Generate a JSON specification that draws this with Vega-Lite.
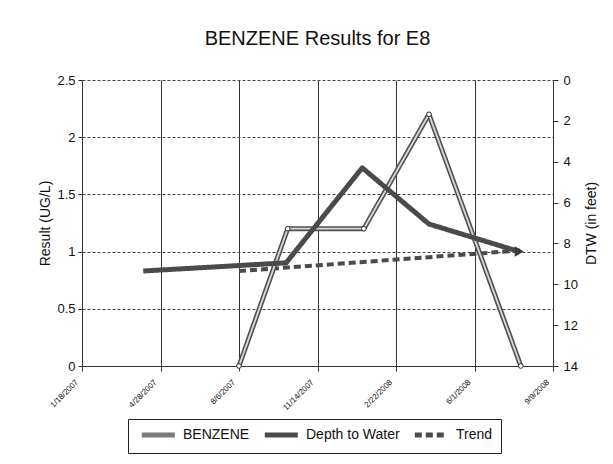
{
  "$schema": "https://vega.github.io/schema/vega-lite/v6.json",
  "width": 471,
  "height": 286,
  "autosize": {"type": "none"},
  "padding": {"left": 82, "top": 80, "right": 60, "bottom": 98},
  "background": "white",
  "title": {"text": "BENZENE Results for E8", "fontSize": 20, "font": "Liberation Sans", "fontWeight": "normal", "color": "#111", "offset": 25, "anchor": "middle"},
  "datasets": {
    "benzene": [
      {"date": "2007/08/06", "value": 0, "series": "BENZENE"},
      {"date": "2007/10/07", "value": 1.2, "series": "BENZENE"},
      {"date": "2008/01/12", "value": 1.2, "series": "BENZENE"},
      {"date": "2008/04/04", "value": 2.2, "series": "BENZENE"},
      {"date": "2008/07/30", "value": 0, "series": "BENZENE"}
    ],
    "trend": [
      {"date": "2007/08/06", "value": 0.83, "series": "Trend"},
      {"date": "2008/07/30", "value": 1.01, "series": "Trend"}
    ],
    "dtw": [
      {"date": "2007/04/06", "dtw": 9.35, "series": "Depth to Water"},
      {"date": "2007/10/05", "dtw": 8.95, "series": "Depth to Water"},
      {"date": "2008/01/10", "dtw": 4.3, "series": "Depth to Water"},
      {"date": "2008/04/04", "dtw": 7.05, "series": "Depth to Water"},
      {"date": "2008/07/28", "dtw": 8.4, "series": "Depth to Water"}
    ]
  },
  "config": {
    "view": {"stroke": null},
    "font": "Liberation Sans",
    "axis": {"labelFont": "Liberation Sans", "titleFont": "Liberation Sans", "labelColor": "#111", "titleColor": "#111", "domainColor": "#333", "tickColor": "#333", "titleFontWeight": "normal"},
    "legend": {
      "orient": "none", "legendX": 46, "legendY": 339, "direction": "horizontal",
      "strokeColor": "#222", "padding": 8, "labelFontSize": 14, "labelFont": "Liberation Sans", "labelColor": "#111",
      "symbolType": "M-0.4,0H5.6", "symbolSize": 121, "symbolStrokeWidth": 5, "labelOffset": 31, "columnPadding": 4
    }
  },
  "layer": [
    {
      "encoding": {
        "x": {"field": "date", "type": "temporal",
          "scale": {"domain": [{"year": 2007, "month": 1, "date": 18}, {"year": 2008, "month": 9, "date": 9}]},
          "axis": {"title": null, "format": "%-m/%-d/%Y", "labelAngle": -45, "labelAlign": "right", "labelFontSize": 8, "grid": true, "gridColor": "#333", "gridWidth": 1, "tickSize": 5, "labelPadding": 7, "labelOffset": -8,
            "values": [{"year": 2007, "month": 1, "date": 18}, {"year": 2007, "month": 4, "date": 28}, {"year": 2007, "month": 8, "date": 6}, {"year": 2007, "month": 11, "date": 14}, {"year": 2008, "month": 2, "date": 22}, {"year": 2008, "month": 6, "date": 1}, {"year": 2008, "month": 9, "date": 9}]}},
        "y": {"field": "value", "type": "quantitative",
          "scale": {"domain": [0, 2.5], "nice": false},
          "axis": {"title": "Result (UG/L)", "titleFontSize": 14, "titlePadding": 4, "values": [0, 0.5, 1, 1.5, 2, 2.5], "format": "~g", "labelFontSize": 13, "tickSize": 4, "labelPadding": 3, "grid": true, "gridDash": [3, 2], "gridColor": "#444", "gridWidth": 1}}
      },
      "layer": [
        {
          "data": {"name": "trend"},
          "mark": {"type": "line", "strokeWidth": 4, "strokeCap": "butt"},
          "encoding": {
            "color": {"field": "series", "type": "nominal", "scale": {"domain": ["BENZENE", "Depth to Water", "Trend"], "range": ["#7a7a7a", "#4a4a4a", "#4a4a4a"]}, "legend": {"title": null}},
            "strokeDash": {"field": "series", "type": "nominal", "scale": {"domain": ["BENZENE", "Depth to Water", "Trend"], "range": [[1, 0], [1, 0], [7, 4]]}, "legend": {"title": null}}
          }
        },
        {
          "data": {"name": "benzene"},
          "mark": {"type": "line", "strokeWidth": 5, "color": "#505050", "strokeJoin": "round"},
          "encoding": {}
        },
        {
          "data": {"name": "benzene"},
          "mark": {"type": "line", "strokeWidth": 1.8, "color": "#d8d8d8", "strokeJoin": "round"},
          "encoding": {}
        },
        {
          "data": {"name": "benzene"},
          "mark": {"type": "point", "filled": true, "fill": "white", "stroke": "#333", "strokeWidth": 1, "size": 22, "opacity": 1},
          "encoding": {}
        }
      ]
    },
    {
      "data": {"name": "dtw"},
      "encoding": {
        "x": {"field": "date", "type": "temporal"},
        "y": {"field": "dtw", "type": "quantitative",
          "scale": {"domain": [0, 14], "reverse": true, "nice": false},
          "axis": {"orient": "right", "title": "DTW (in feet)", "titleAngle": 270, "titleFontSize": 14, "titlePadding": 21, "values": [0, 2, 4, 6, 8, 10, 12, 14], "labelFontSize": 13, "tickSize": 5, "labelPadding": 5, "grid": false}}
      },
      "layer": [
        {
          "mark": {"type": "line", "strokeWidth": 5, "strokeJoin": "round"},
          "encoding": {
            "color": {"field": "series", "type": "nominal"},
            "strokeDash": {"field": "series", "type": "nominal"}
          }
        },
        {
          "transform": [{"filter": "datum.dtw == 8.4"}],
          "mark": {"type": "point", "shape": "triangle-right", "filled": true, "color": "#3a3a3a", "size": 110, "opacity": 1},
          "encoding": {}
        }
      ]
    }
  ],
  "resolve": {"scale": {"y": "independent"}}
}
